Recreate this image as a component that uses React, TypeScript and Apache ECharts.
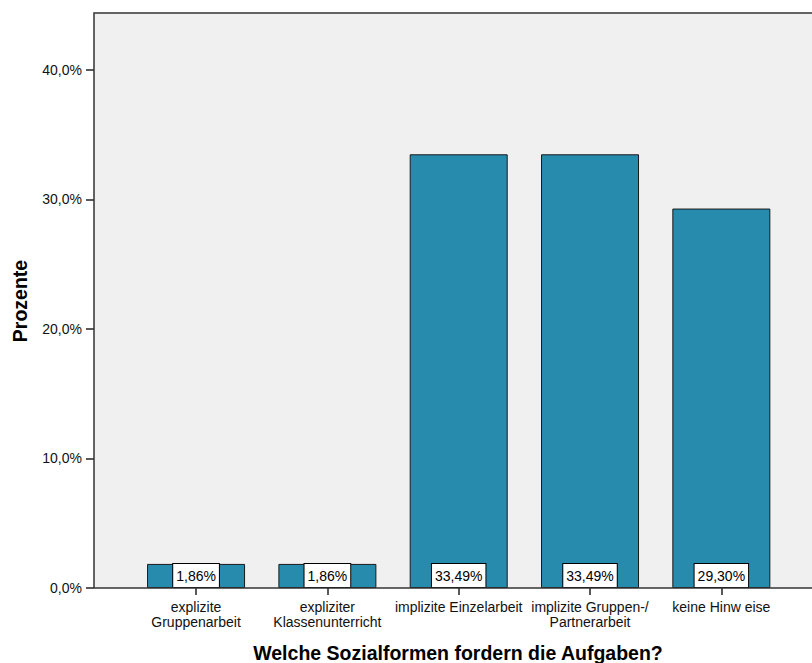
import React, { useEffect, useRef } from "react";
import * as echarts from "echarts";

const categories = [
  "explizite\nGruppenarbeit",
  "expliziter\nKlassenunterricht",
  "implizite Einzelarbeit",
  "implizite Gruppen-/\nPartnerarbeit",
  "keine Hinw eise",
];
const values = [1.86, 1.86, 33.49, 33.49, 29.3];
const yTicks = [0, 10, 20, 30, 40];
const xTitle = "Welche Sozialformen fordern die Aufgaben?";
const yTitle = "Prozente";

const FONT = "'Liberation Sans', Arial, sans-serif";

export default function App() {
  const ref = useRef<HTMLDivElement>(null);
  useEffect(() => {
    if (!ref.current) return;
    const chart = echarts.init(ref.current, undefined, { renderer: "svg" });
    const gridLeft = 130.4;
    const gridRight = 812 - 787;
    const gridTop = 13;
    const gridBottom = 663 - 588;
    chart.setOption({
      animation: false,
      backgroundColor: "#ffffff",
      textStyle: { fontFamily: FONT },
      graphic: [
        {
          type: "rect",
          z: -10,
          silent: true,
          shape: { x: 94, y: 13, width: 730, height: 575 },
          style: { fill: "#f0f0f0" },
        },
        {
          type: "polyline",
          z: 10,
          silent: true,
          shape: { points: [[94, 588], [94, 13], [812, 13]] },
          style: { stroke: "#333333", lineWidth: 1.5, fill: null },
        },
        {
          type: "line",
          z: 10,
          silent: true,
          shape: { x1: 94, y1: 588, x2: 812, y2: 588 },
          style: { stroke: "#333333", lineWidth: 1.5 },
        },
        {
          type: "text",
          silent: true,
          x: 458,
          y: 653,
          style: {
            text: xTitle,
            fontFamily: FONT,
            fontSize: 19.5,
            fontWeight: "bold",
            fill: "#000",
            align: "center",
            verticalAlign: "middle",
          },
        },
        {
          type: "text",
          silent: true,
          x: 20,
          y: 301,
          rotation: Math.PI / 2,
          style: {
            text: yTitle,
            fontFamily: FONT,
            fontSize: 19.5,
            fontWeight: "bold",
            fill: "#000",
            align: "center",
            verticalAlign: "middle",
          },
        },
      ],
      grid: {
        left: gridLeft,
        right: gridRight,
        top: gridTop,
        bottom: gridBottom,
        containLabel: false,
      },
      xAxis: {
        type: "category",
        data: categories,
        boundaryGap: true,
        axisLine: { show: false },
        axisTick: {
          show: true,
          alignWithLabel: true,
          length: 7,
          lineStyle: { color: "#222", width: 1.5 },
        },
        axisLabel: {
          interval: 0,
          color: "#111",
          fontFamily: FONT,
          fontSize: 14,
          lineHeight: 15,
          margin: 11,
        },
        splitLine: { show: false },
      },
      yAxis: {
        type: "value",
        min: 0,
        max: 44.4,
        interval: 10,
        offset: gridLeft - 94,
        axisLine: { show: false },
        axisTick: {
          show: true,
          length: 8,
          customValues: yTicks,
          lineStyle: { color: "#222", width: 1.5 },
        },
        axisLabel: {
          customValues: yTicks,
          color: "#111",
          fontFamily: FONT,
          fontSize: 14,
          margin: 12,
          formatter: (v: number) => v.toFixed(1).replace(".", ",") + "%",
        },
        splitLine: { show: false },
      },
      series: [
        {
          type: "bar",
          data: values,
          barWidth: 98,
          itemStyle: {
            color: "#268bad",
            borderColor: "#1a1a1a",
            borderWidth: 1,
          },
          label: {
            show: true,
            position: "insideBottom",
            distance: 1,
            formatter: (p: any) => p.value.toFixed(2).replace(".", ",") + "%",
            fontFamily: FONT,
            fontSize: 14,
            color: "#000",
            backgroundColor: "#ffffff",
            borderColor: "#000",
            borderWidth: 1,
            padding: [5, 3, 4, 3],
          },
        },
      ],
    });
    return () => chart.dispose();
  }, []);
  return (
    <div
      ref={ref}
      style={{ position: "fixed", left: 0, top: 0, width: 812, height: 663 }}
    />
  );
}
